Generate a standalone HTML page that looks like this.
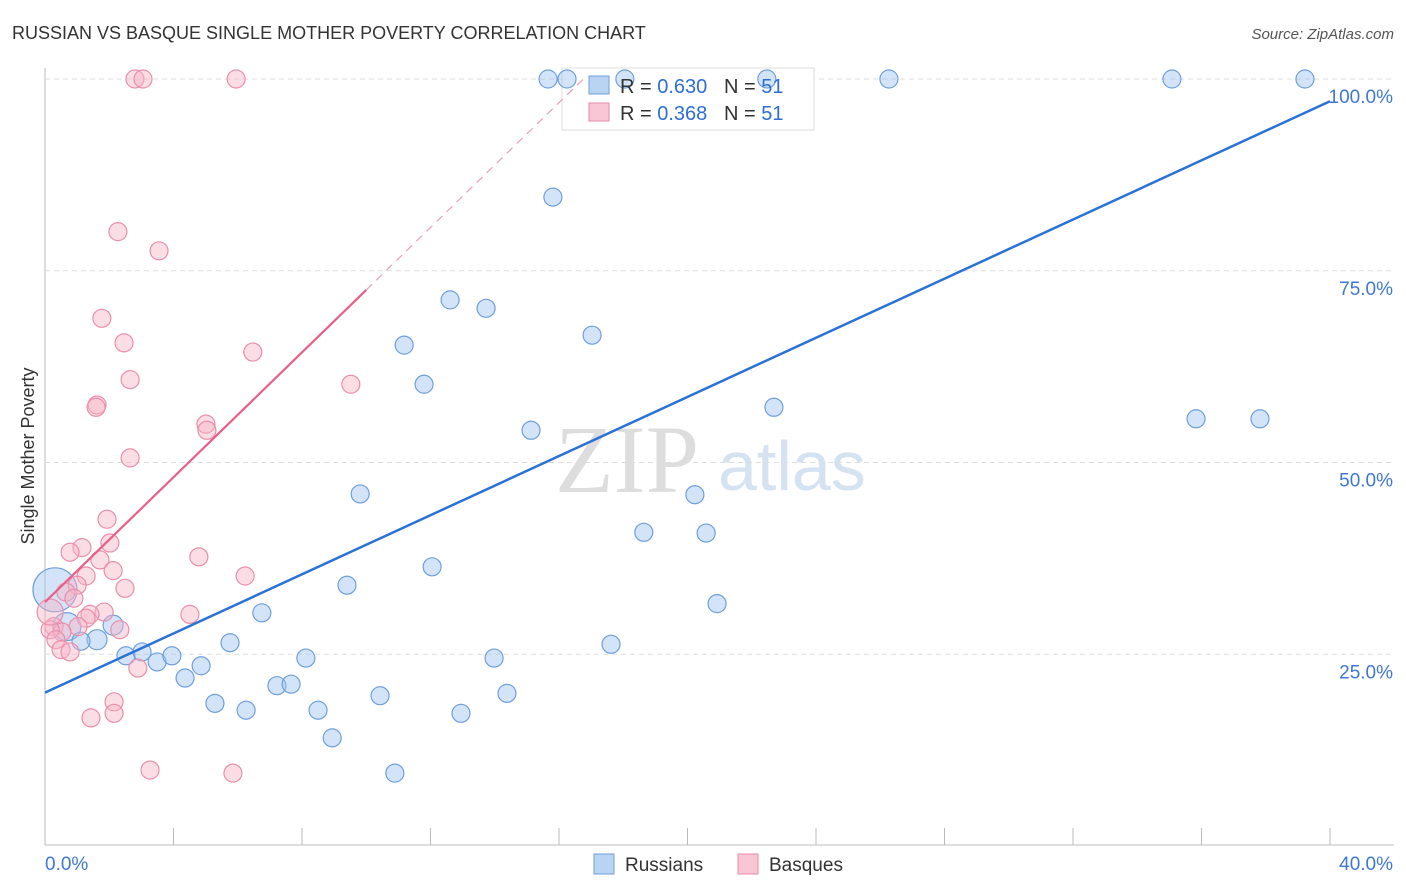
<!DOCTYPE html>
<html><head><meta charset="utf-8"><style>
body{margin:0;background:#fff;font-family:"Liberation Sans",sans-serif;}
#c{position:absolute;left:0;top:0;}
</style></head><body>
<svg id="c" width="1406" height="892">
<text x="12" y="39" font-size="18" fill="#333">RUSSIAN VS BASQUE SINGLE MOTHER POVERTY CORRELATION CHART</text>
<text x="1394" y="39" font-size="15" fill="#555" font-style="italic" text-anchor="end">Source: ZipAtlas.com</text>
<text x="34" y="456" font-size="18" fill="#333" text-anchor="middle" transform="rotate(-90 34 456)">Single Mother Poverty</text>
<text x="555" y="492" font-size="96" fill="#ddd" font-family="Liberation Serif,serif">ZIP</text>
<text x="718" y="490" font-size="70" fill="#d5e2f2">atlas</text>
<g id="grid"></g>
<rect x="562" y="68" width="252" height="62" fill="#fff" stroke="#ddd"/>
<g id="marks"></g>
<g>
<rect x="589" y="76" width="20" height="18" fill="#b9d4f3" stroke="#6f9fdc"/>
<text x="620" y="93" font-size="20" fill="#333">R = <tspan fill="#2d6ed6">0.630</tspan>&#160;&#160;&#160;N = <tspan fill="#2d6ed6">51</tspan></text>
<rect x="589" y="103" width="20" height="18" fill="#f8c6d5" stroke="#e88aa8"/>
<text x="620" y="120" font-size="20" fill="#333">R = <tspan fill="#2d6ed6">0.368</tspan>&#160;&#160;&#160;N = <tspan fill="#2d6ed6">51</tspan></text>
</g>
<g>
<rect x="594" y="854" width="20" height="20" fill="#b9d4f3" stroke="#6f9fdc"/>
<text x="625" y="871" font-size="19" fill="#333">Russians</text>
<rect x="738" y="854" width="20" height="20" fill="#f8c6d5" stroke="#e88aa8"/>
<text x="769" y="871" font-size="19" fill="#333">Basques</text>
</g>
</svg>
<script>
const yTicks=[25,50,75,100];
const xTickLabels=["0.0%","40.0%"];
const blueX=[15.66,16.25,18.05,22.47,26.27,35.08,39.22,15.81,12.61,13.73,17.03,11.18,11.80,22.69,35.83,37.82,15.13,9.81,20.23,18.64,20.58,12.05,9.40,20.92,6.75,0.31,0.68,1.62,2.12,1.12,5.76,17.62,2.52,3.02,3.49,3.95,4.86,8.12,13.98,4.36,7.22,7.66,10.43,14.38,5.29,6.26,8.50,12.95,8.94,10.89];
const blueY=[100,100,100,100,100,100,100,84.6,71.2,70.1,66.6,65.3,60.2,57.2,55.7,55.7,54.2,45.9,45.8,40.9,40.8,36.4,34.0,31.6,30.4,33.4,28.6,26.9,28.8,26.7,26.5,26.3,24.8,25.3,24.0,24.8,23.5,24.5,24.5,21.9,20.9,21.1,19.6,19.9,18.6,17.7,17.7,17.3,14.1,9.5];
const blueR=[9,9,9,9,9,9,9,9,9,9,9,9,9,9,9,9,9,9,9,9,9,9,9,9,9,22,14,10,10,9,9,9,9,9,9,9,9,9,9,9,9,9,9,9,9,9,9,9,9,9];
const pinkX=[2.80,3.05,5.95,2.27,3.55,1.77,2.46,6.47,9.52,2.65,1.62,1.59,5.01,5.04,2.65,1.93,2.02,1.15,0.78,4.79,1.71,2.12,1.28,6.23,1.00,2.49,0.65,0.90,4.51,1.84,1.40,1.28,2.33,1.03,0.28,0.53,0.16,0.34,0.50,0.78,2.89,2.15,2.15,1.43,3.27,5.85,0.16];
const pinkY=[100,100,100,80.1,77.6,68.8,65.6,64.4,60.2,60.8,57.5,57.2,55.0,54.2,50.6,42.6,39.5,38.9,38.3,37.7,37.3,35.9,35.2,35.2,34.0,33.6,33.1,32.3,30.2,30.5,30.2,29.7,28.2,28.6,28.6,27.9,28.2,26.9,25.6,25.3,23.2,18.8,17.3,16.7,9.9,9.5,30.5];
const blueLine=[20.0,97.1];
const pinkLine=[31.8,4.07];
const X0=45,X1=1330,Y0=846,Y100=79;
const sx=v=>X0+(X1-X0)*v/40, sy=v=>Y0-(Y0-Y100)*v/100;
const NS="http://www.w3.org/2000/svg";
function mk(t,a,p){const e=document.createElementNS(NS,t);for(const k in a)e.setAttribute(k,a[k]);p.appendChild(e);return e;}
const g=document.getElementById('grid'),m=document.getElementById('marks');
const xa=mk('line',{x1:45,y1:845,x2:1394,y2:845,stroke:'#bbb'},g);


const ya=mk('line',{x1:45,y1:68,x2:45,y2:845,stroke:'#bbb'},g);


for(let i=1;i<=10;i++){const x=X0+(X1-X0)*i/10;const t=mk('line',{x1:x,y1:828,x2:x,y2:845,stroke:'#bbb'},g);

}
yTicks.forEach(v=>{const y=sy(v);const l=mk('line',{x1:45,y1:y,x2:1394,y2:y,stroke:'#ddd','stroke-dasharray':'5,4'},g);


const t=mk('text',{x:1393,y:y+24,'font-size':19,fill:'#3f78d4','text-anchor':'end'},g);t.textContent=v.toFixed(1)+'%';

});
const xl0=mk('text',{x:45,y:870,'font-size':19,fill:'#3f78d4'},g);xl0.textContent=xTickLabels[0];


const xl1=mk('text',{x:1393,y:870,'font-size':19,fill:'#3f78d4','text-anchor':'end'},g);xl1.textContent=xTickLabels[1];


blueX.forEach((v,i)=>{const c=mk('circle',{cx:sx(v),cy:sy(blueY[i]),r:blueR[i],fill:'rgba(160,196,240,0.45)',stroke:'#6f9fdc','stroke-width':1.2},m);

});
pinkX.forEach((v,i)=>{const c=mk('circle',{cx:sx(v),cy:sy(pinkY[i]),r:i==pinkX.length-1?13:9,fill:'rgba(246,180,200,0.45)',stroke:'#e98fab','stroke-width':1.2},m);

});
const bl=mk('line',{x1:sx(0),y1:sy(blueLine[0]),x2:sx(40),y2:sy(blueLine[1]),stroke:'#2a72d6','stroke-width':2.5},m);


const pe=(100-pinkLine[0])/pinkLine[1];
const pd=mk('line',{x1:sx(10),y1:sy(pinkLine[0]+10*pinkLine[1]),x2:sx(pe),y2:sy(100),stroke:'#e8a0b6','stroke-width':1.2,'stroke-dasharray':'8,6'},m);


const pl=mk('line',{x1:sx(0),y1:sy(pinkLine[0]),x2:sx(10),y2:sy(pinkLine[0]+10*pinkLine[1]),stroke:'#e8608a','stroke-width':2.2},m);


</script>
</body></html>
